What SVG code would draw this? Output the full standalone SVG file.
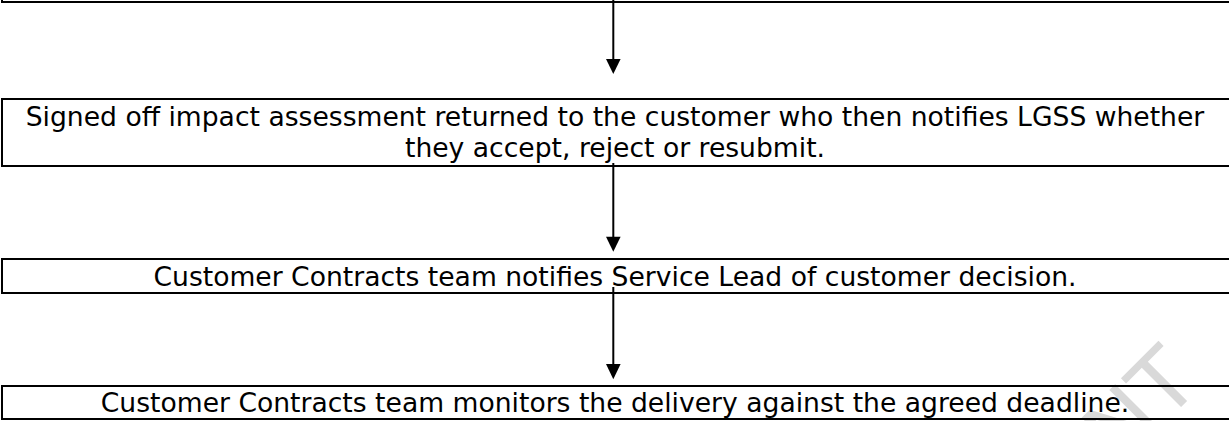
<svg xmlns="http://www.w3.org/2000/svg" width="1229" height="421" viewBox="0 0 1229 421">
<defs>
<style>
.box{fill:none;stroke:#000;stroke-width:2}
.lbl{font-family:"DejaVu Sans",Verdana,sans-serif;font-size:26.6px;fill:#000;text-anchor:middle}
.conn{stroke:#000;stroke-width:2;fill:none}
.head{fill:#000}
.wm{font-family:"DejaVu Sans",sans-serif;font-size:86px;fill:#d9d9d9}
</style>
</defs>
<rect width="1229" height="421" fill="#fff"/>
<text class="wm" transform="translate(1120,468) rotate(-45)">NT</text>
<g id="node-prev"><rect class="box" x="2" y="-60" width="1240" height="62"/></g>
<g id="node-signoff">
<rect class="box" x="2" y="99" width="1240" height="67"/>
<text class="lbl" x="615" y="125.5">Signed off impact assessment returned to the customer who then notifies LGSS whether</text>
<text class="lbl" x="615" y="156.5">they accept, reject or resubmit.</text>
</g>
<g id="node-notify">
<rect class="box" x="2" y="259" width="1240" height="34"/>
<text class="lbl" x="615" y="286">Customer Contracts team notifies Service Lead of customer decision.</text>
</g>
<g id="node-monitor">
<rect class="box" x="2" y="386" width="1240" height="33"/>
<text class="lbl" x="615" y="412">Customer Contracts team monitors the delivery against the agreed deadline.</text>
</g>
<g id="connectors">
<line class="conn" x1="613.3" y1="0" x2="613.3" y2="60"/>
<polygon class="head" points="606,59 620.6,59 613.3,74"/>
<line class="conn" x1="613.3" y1="163" x2="613.3" y2="238"/>
<polygon class="head" points="606,236.7 620.6,236.7 613.3,251.7"/>
<line class="conn" x1="613.3" y1="287" x2="613.3" y2="365"/>
<polygon class="head" points="606,364 620.6,364 613.3,379.3"/>
</g>
</svg>
